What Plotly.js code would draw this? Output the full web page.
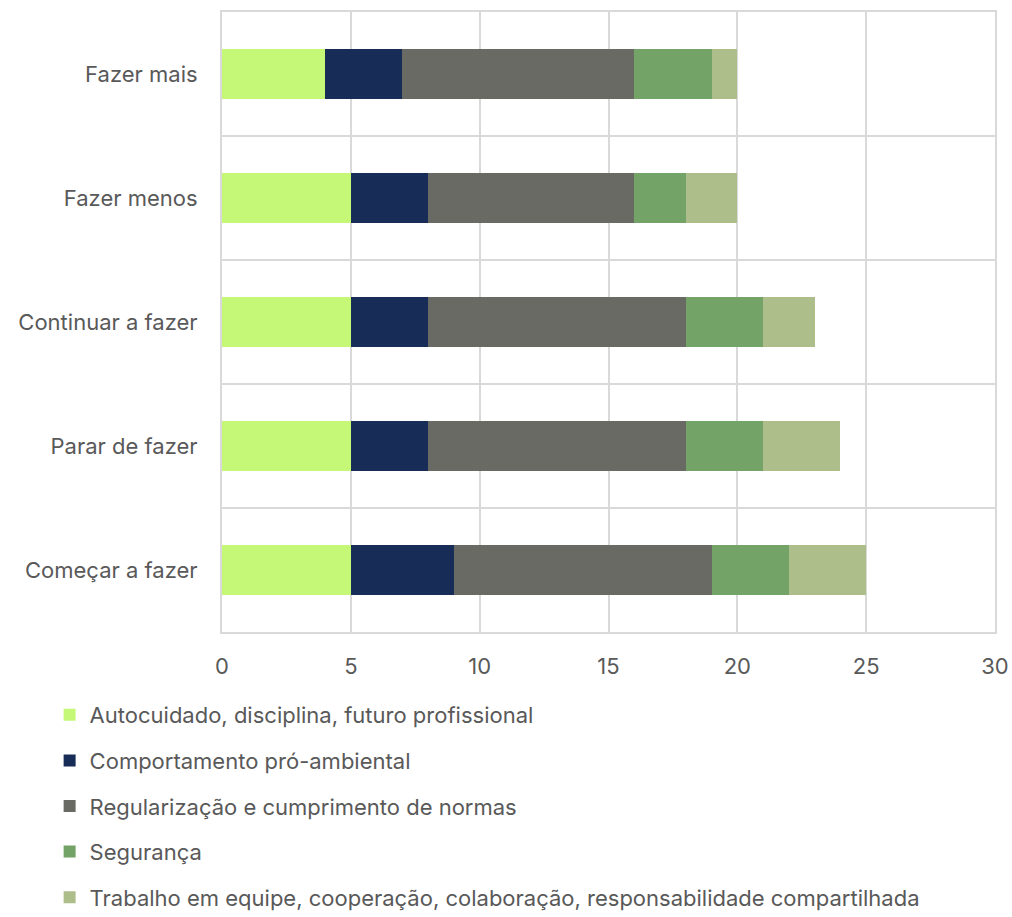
<!DOCTYPE html>
<html>
<head>
<meta charset="utf-8">
<script src="https://cdn.plot.ly/plotly-3.0.1.min.js"></script>
<style>html,body{margin:0;padding:0;background:#fff;overflow:hidden;width:1012px;height:917px;}#chart{width:1012px;height:950px;}</style>
</head>
<body>
<div id="chart"></div>
<script>
const categories = ["Começar a fazer", "Parar de fazer", "Continuar a fazer", "Fazer menos", "Fazer mais"];
const seriesNames = [
  "Autocuidado, disciplina, futuro profissional",
  "Comportamento pró-ambiental",
  "Regularização e cumprimento de normas",
  "Segurança",
  "Trabalho em equipe, cooperação, colaboração, responsabilidade compartilhada"
];
const autocuidado = [5, 5, 5, 5, 4];
const comportamento = [4, 3, 3, 3, 3];
const regularizacao = [10, 10, 10, 8, 9];
const seguranca = [3, 3, 3, 2, 3];
const trabalho = [3, 3, 2, 2, 1];
const xTicks = [0, 5, 10, 15, 20, 25, 30];

const colors = ["#C4F876", "#172D57", "#696A64", "#74A367", "#ADBE8B"];
const values = [autocuidado, comportamento, regularizacao, seguranca, trabalho];

const traces = values.map((v, i) => ({
  type: "bar",
  orientation: "h",
  x: v,
  y: categories,
  name: seriesNames[i],
  legendgroup: "g" + i,
  marker: { color: colors[i], line: { width: 0 } },
  hoverinfo: "x+name"
}));

const layout = {
  width: 1012,
  height: 950,
  barmode: "stack",
  bargap: 0.6,
  margin: { l: 222, r: 17, t: 12, b: 318 },
  paper_bgcolor: "#fff",
  plot_bgcolor: "#fff",
  font: { family: "Inter, 'DejaVu Sans', sans-serif", size: 22, color: "#595959" },
  xaxis: {
    range: [0, 30],
    tickvals: xTicks,
    ticktext: xTicks.map(String),
    showgrid: true,
    gridcolor: "#D9D9D9",
    gridwidth: 2,
    zeroline: false,
    showline: true,
    linecolor: "#D9D9D9",
    linewidth: 2,
    mirror: true,
    ticks: "",
    ticklen: 0,
    ticklabelstandoff: 14,
    automargin: false,
    tickfont: { size: 22, color: "#595959" },
    fixedrange: true
  },
  yaxis: {
    type: "category",
    categoryorder: "array",
    categoryarray: categories,
    tickson: "boundaries",
    showgrid: true,
    gridcolor: "#D9D9D9",
    gridwidth: 2,
    showline: true,
    linecolor: "#D9D9D9",
    linewidth: 2,
    mirror: true,
    ticks: "",
    ticklen: 0,
    ticklabelstandoff: 18,
    automargin: false,
    tickfont: { size: 22, color: "#595959" },
    fixedrange: true
  },
  showlegend: true,
  legend: {
    orientation: "v",
    traceorder: "grouped",
    x: -0.223,
    xanchor: "left",
    y: -0.1,
    yanchor: "top",
    font: { size: 22, color: "#595959" },
    tracegroupgap: 14,
    itemwidth: 30,
    bgcolor: "rgba(0,0,0,0)"
  }
};

Plotly.newPlot("chart", traces, layout, { displayModeBar: false, staticPlot: true });
</script>
</body>
</html>
